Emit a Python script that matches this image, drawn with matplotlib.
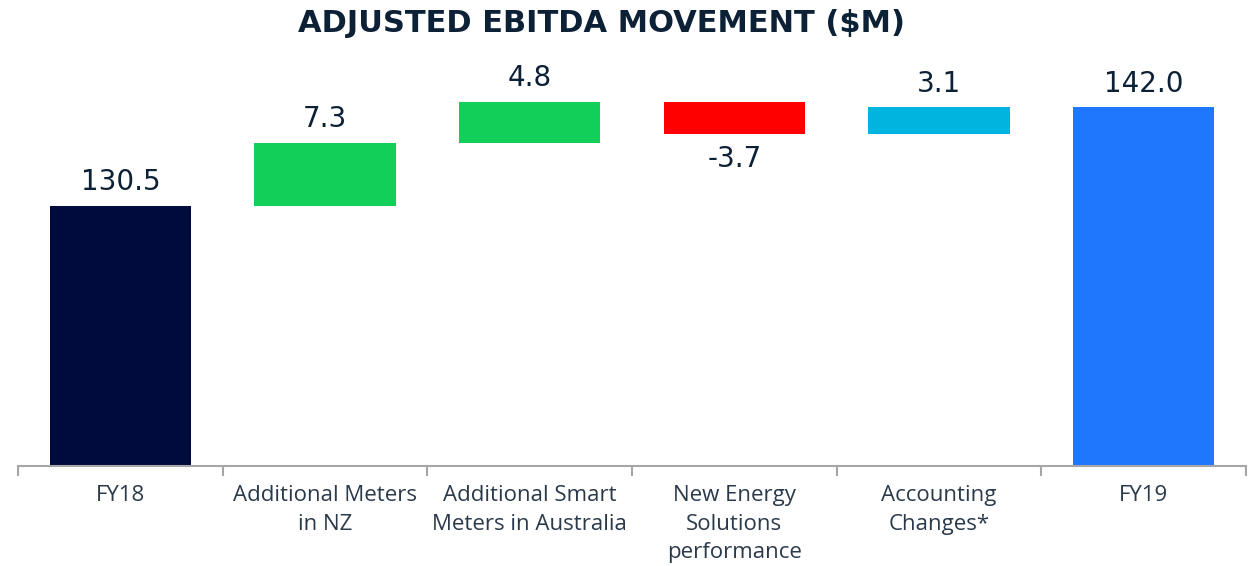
import matplotlib
matplotlib.use("Agg")
import matplotlib.pyplot as plt
import numpy as np

plt.rcParams['font.family'] = ['Open Sans', 'DejaVu Sans']

# data
categories = ["FY18", "Additional Meters\nin NZ", "Additional Smart\nMeters in Australia",
              "New Energy\nSolutions\nperformance", "Accounting\nChanges*", "FY19"]
changes = [130.5, 7.3, 4.8, -3.7, 3.1, 142.0]
is_total = [True, False, False, False, False, True]
colors = ["#000b3d", "#12cf5a", "#12cf5a", "#ff0000", "#00b4e0", "#1f77fe"]
labels = ["130.5", "7.3", "4.8", "-3.7", "3.1", "142.0"]

y_min, y_max = 100, 150

# waterfall bottoms / heights
bottoms = []
heights = []
running = 0
for v, tot in zip(changes, is_total):
    if tot:
        bottoms.append(y_min)
        heights.append(v - y_min)
        running = v
    else:
        if v >= 0:
            bottoms.append(running)
            heights.append(v)
        else:
            bottoms.append(running + v)
            heights.append(-v)
        running += v

fig = plt.figure(figsize=(12.56, 5.66), dpi=100)
ax = fig.add_axes([18 / 1256, 100 / 566, 1228 / 1256, 427 / 566])
x = np.arange(len(categories))
ax.bar(x, heights, bottom=bottoms, width=0.69, color=colors)

ax.set_xlim(-0.5, len(categories) - 0.5)
ax.set_ylim(y_min, y_max)

# value labels
for i, (b, h, v, lab) in enumerate(zip(bottoms, heights, changes, labels)):
    if v >= 0 or is_total[i]:
        ax.annotate(lab, (i, b + h), xytext=(0, 7), textcoords="offset points",
                    ha="center", va="bottom", fontsize=20, color="#0d2136",
                    family="DejaVu Sans")
    else:
        ax.annotate(lab, (i, b), xytext=(0, -8), textcoords="offset points",
                    ha="center", va="top", fontsize=20, color="#0d2136",
                    family="DejaVu Sans")

for s in ["top", "left", "right"]:
    ax.spines[s].set_visible(False)
ax.spines["bottom"].set_color("#a6a6a6")
ax.spines["bottom"].set_linewidth(1.5)
ax.set_yticks([])
ax.set_xticks(x)
ax.set_xticklabels(categories, fontsize=16, color="#2b3a4a", linespacing=1.45)
ax.tick_params(axis="x", which="major", length=0, pad=14)
ax.set_xticks(np.arange(-0.5, len(categories)), minor=True)
ax.tick_params(axis="x", which="minor", length=7, width=1.5, color="#a6a6a6")

fig.text(601 / 1256, 1 - 23 / 566, "ADJUSTED EBITDA MOVEMENT ($M)", ha="center", va="center",
         fontsize=22, fontweight="bold", color="#0d2136", family="DejaVu Sans")

fig.savefig("out.png", dpi=100)
